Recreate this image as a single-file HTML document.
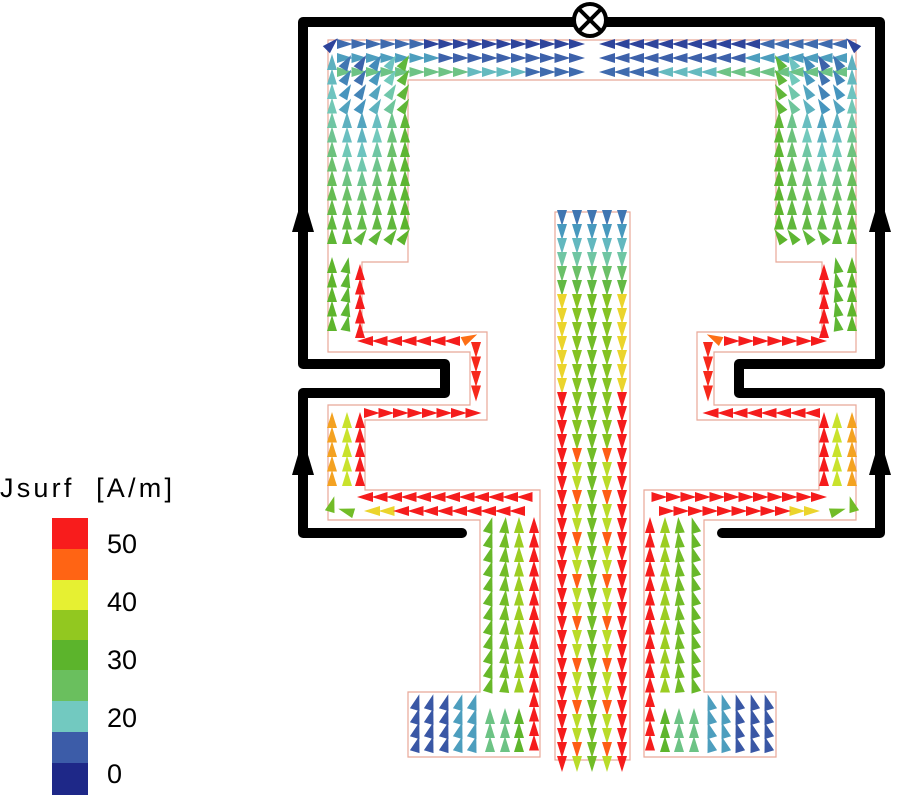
<!DOCTYPE html>
<html><head><meta charset="utf-8"><style>
html,body{margin:0;padding:0;background:#fff;}
svg{display:block}
text{font-family:"Liberation Sans",sans-serif;}
</style></head><body>
<svg id="s" width="900" height="800" viewBox="0 0 900 800" xmlns="http://www.w3.org/2000/svg">
<g fill="none" stroke="#e8a898" stroke-width="1.2">
<path d="M592 40 H328 V352 H470 V405 H328 V520 H480 V692 H408 V757 H540 V490 H365 V420 H487 V332 H362 V262 H408 V80 H592"/>
<path d="M592 40 H856 V352 H714 V405 H856 V520 H704 V692 H776 V757 H644 V490 H819 V420 H697 V332 H822 V262 H776 V80 H592"/>
<rect x="555" y="212" width="75" height="548"/>
</g>
<g id="arr"></g>
<g fill="none" stroke="#000" stroke-width="10" stroke-linejoin="round" stroke-linecap="round">
<path d="M462 533 H303 V393 H445 V364 H303 V22 H574"/>
<path d="M722 533 H880 V393 H739 V364 H880 V22 H606"/>
</g>
<g fill="#000">
<polygon points="303,195 292,232 314,232"/>
<polygon points="303,438 292,475 314,475"/>
<polygon points="880,195 869,232 891,232"/>
<polygon points="880,438 869,475 891,475"/>
</g>
<circle cx="590" cy="20" r="16" fill="#fff" stroke="#000" stroke-width="4"/>
<path d="M579 9 L601 31 M601 9 L579 31" stroke="#000" stroke-width="4"/>
<text x="0" y="497" font-size="27" textLength="172" lengthAdjust="spacing">Jsurf&#160; [A/m]</text>
<rect x="52" y="518" width="36" height="31" fill="#f81c1c"/>
<rect x="52" y="549" width="36" height="31" fill="#ff6414"/>
<rect x="52" y="580" width="36" height="30" fill="#e6f032"/>
<rect x="52" y="610" width="36" height="30" fill="#92c820"/>
<rect x="52" y="640" width="36" height="30" fill="#5cb42c"/>
<rect x="52" y="670" width="36" height="31" fill="#6abf5e"/>
<rect x="52" y="701" width="36" height="31" fill="#72c9c0"/>
<rect x="52" y="732" width="36" height="31" fill="#3c5ca8"/>
<rect x="52" y="763" width="36" height="32" fill="#1e2888"/>
<g font-size="27">
<text x="107" y="553">50</text>
<text x="107" y="611">40</text>
<text x="107" y="669">30</text>
<text x="107" y="727">20</text>
<text x="107" y="783">0</text>
</g>
</svg>
<script>
var g=document.getElementById('arr'),out=[];
var pal=[[30,40,140],[60,92,168],[70,150,190],[114,201,192],[106,191,94],[92,180,44],[146,200,32],[230,240,50],[255,100,20],[245,28,28]];
function col(v){v=Math.max(0,Math.min(50,v));var t=v/50*9,i=Math.floor(t);if(i>=9)i=8;var f=t-i,a=pal[i],b=pal[i+1];
return 'rgb('+[0,1,2].map(k=>Math.round(a[k]+(b[k]-a[k])*f)).join(',')+')';}
function tri(x,y,dx,dy,v){var l=Math.hypot(dx,dy);dx/=l;dy/=l;var L=8,W=5;
out.push('<polygon points="'+(x+dx*L).toFixed(1)+','+(y+dy*L).toFixed(1)+' '+(x-dx*L-dy*W).toFixed(1)+','+(y-dy*L+dx*W).toFixed(1)+' '+(x-dx*L+dy*W).toFixed(1)+','+(y-dy*L-dx*W).toFixed(1)+'" fill="'+col(v)+'"/>');}
function both(x,y,dx,dy,v){tri(x,y,dx,dy,v);tri(1184-x,y,-dx,dy,v);}
var x,y,i;
for(x=345;x<=582;x+=14.5){both(x,44,1,0,3+ (x<420?4:0));both(x,58,1,0,x<440?12:6);both(x,72,1,0,x<470?20:(x<530?15:7));}
both(332,44,1,-1,3);
var ac=[332,347,362,377,392,405],av=[14,8,6,10,16,26];
for(i=0;i<6;i++)for(y=62;y<=250;y+=14.5){var v=av[i]+(y-62)/190*(28-av[i]);var dx=(i>0&&y<110)?0.6:(i>1&&y>225?0.7:0);both(ac[i],y,dx,-1,v);}
for(y=265;y<=335;y+=14.5){both(332,y,0,-1,28);both(347,y,0.2,-1,27);}
for(y=272;y<=330;y+=14.5)both(360,y,0,-1,50);
for(x=365;x<=465;x+=14.5)both(x,341,-1,0,50);
both(470,338,1,-0.5,44);
for(y=350;y<=400;y+=14.5)both(476,y,0,1,49);
for(x=372;x<=480;x+=14.5)both(x,413,1,0,50);
for(y=420;y<=488;y+=14.5){both(332,y,0,-1,42);both(347,y,0,-1,37);both(360,y,0,-1,50);}
for(x=365;x<=530;x+=14.5)both(x,497,-1,0,50);
for(x=372;x<=525;x+=14.5)both(x,511,-1,0,x<400?40:50);
both(332,504,0.3,-1,30);both(346,511,-1,-0.3,30);
for(y=525;y<=690;y+=14.5){both(490,y,0.3,-1,29);both(505,y,0.1,-1,30);both(519,y,0,-1,34);}
for(y=525;y<=755;y+=14.5)both(534,y,0,-1,50);
var fx=[417,431,446,460,474,490,505,519];
for(i=0;i<fx.length;i++)for(y=702;y<=750;y+=14){if(i>=5&&y<705)continue;both(fx[i],y,i<5?0.3:0,-1,i<3?5:(i<5?12:(i<7?20:28)));}
var cx=[562,577,592,607,622];
for(i=0;i<5;i++)for(y=218;y<=765;y+=14){var edge=(i==0||i==4),mid=(i==2);var v=(y<300)?8+(y-218)/82*20:(edge?(y<400?40:50):(mid?30:(y<450?32:((Math.round(y/14)%3==0)?45:36))));tri(cx[i],y,0,1,v);}
g.innerHTML=out.join('');
</script>
</body></html>
